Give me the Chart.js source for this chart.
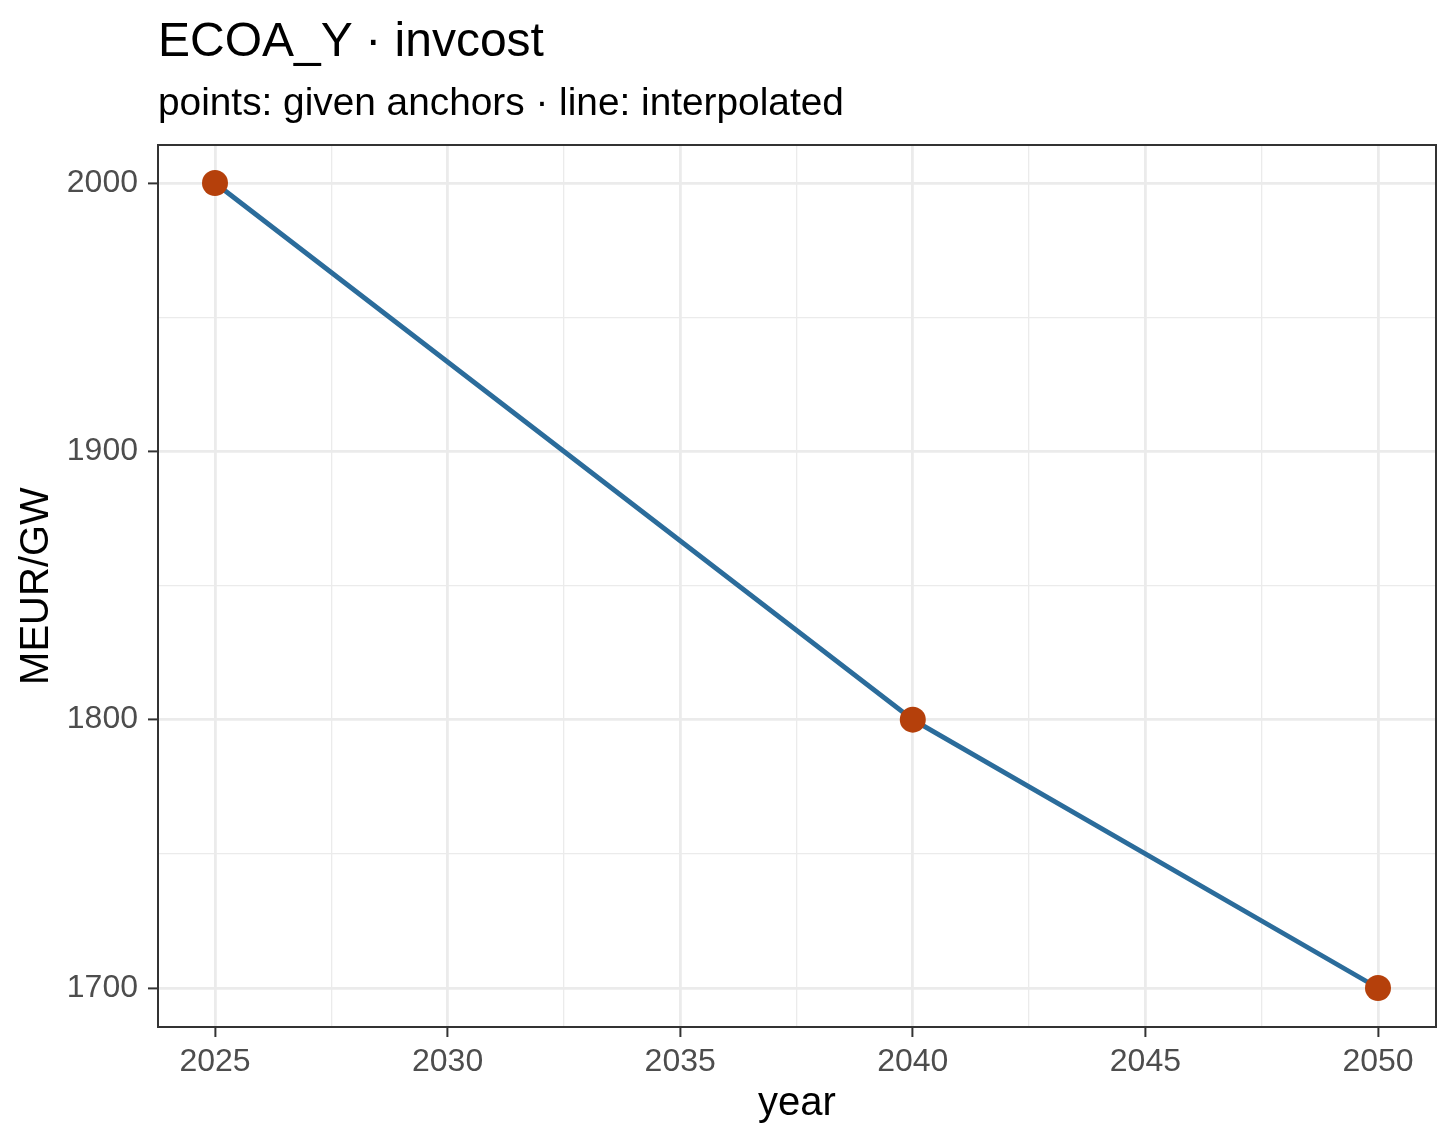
<!DOCTYPE html>
<html>
<head>
<meta charset="utf-8">
<script src="https://cdn.jsdelivr.net/npm/chart.js@4.4.1/dist/chart.umd.min.js"></script>
<style>
  html, body { margin: 0; padding: 0; background: #ffffff; }
  #wrap { position: relative; width: 1456px; height: 1144px; }
  #c { position: absolute; left: 0; top: 0; }
  .ttl { position: absolute; left: 158px; font-family: "Liberation Sans", Arial, sans-serif; color: #000; line-height: 1; white-space: nowrap; }
  #title { top: 16px; font-size: 48px; }
  #subtitle { top: 83px; font-size: 38.8px; }
</style>
</head>
<body>
<div id="wrap">
  <canvas id="c" width="1456" height="1144"></canvas>
  <div id="title" class="ttl">ECOA_Y · invcost</div>
  <div id="subtitle" class="ttl">points: given anchors · line: interpolated</div>
</div>
<script>
// ---- data ----
const anchorYears = [2025, 2040, 2050];
const anchorValues = [2000, 1800, 1700];
const xTickValues = [2025, 2027.5, 2030, 2032.5, 2035, 2037.5, 2040, 2042.5, 2045, 2047.5, 2050];
const xTickLabels = ["2025", "", "2030", "", "2035", "", "2040", "", "2045", "", "2050"];
const yTickValues = [1700, 1750, 1800, 1850, 1900, 1950, 2000];
const yTickLabels = ["1700", "", "1800", "", "1900", "", "2000"];
const xTitle = "year";
const yTitle = "MEUR/GW";

const FONT = "'Liberation Sans', Arial, sans-serif";
const lineData = anchorYears.map((x, i) => ({ x: x, y: anchorValues[i] }));
const pointData = anchorYears.map((x, i) => ({ x: x, y: anchorValues[i] }));

const isMajorX = v => Math.abs(v % 5) < 1e-6;
const isMajorY = v => Math.abs(v % 100) < 1e-6;

const borderPlugin = {
  id: 'panelBorder',
  afterDraw(chart) {
    const a = chart.chartArea;
    const ctx = chart.ctx;
    ctx.save();
    ctx.strokeStyle = '#333333';
    ctx.lineWidth = 2;
    ctx.strokeRect(a.left, a.top, a.right - a.left, a.bottom - a.top);
    ctx.restore();
  }
};

new Chart(document.getElementById('c'), {
  type: 'line',
  data: {
    datasets: [
      {
        label: 'interpolated',
        data: lineData,
        borderColor: '#2B6C9B',
        borderWidth: 4.8,
        pointRadius: 0,
        tension: 0,
        fill: false,
        order: 2
      },
      {
        label: 'anchors',
        data: pointData,
        showLine: false,
        pointRadius: 13,
        pointBackgroundColor: '#B5400B',
        pointBorderColor: '#B5400B',
        pointBorderWidth: 0,
        order: 1
      }
    ]
  },
  options: {
    responsive: false,
    animation: false,
    devicePixelRatio: 1,
    layout: { padding: { top: 145, right: 20, left: 0, bottom: 0 } },
    plugins: {
      legend: { display: false },
      tooltip: { enabled: false },
      title: { display: false }
    },
    scales: {
      x: {
        type: 'linear',
        min: 2023.775,
        max: 2051.247,
        afterBuildTicks(scale) { scale.ticks = xTickValues.map(v => ({ value: v })); },
        afterFit(scale) { scale.height = 117; },
        ticks: {
          autoSkip: false,
          maxRotation: 0,
          padding: 6,
          color: '#4D4D4D',
          font: { family: FONT, size: 32 },
          callback: (v) => { const i = xTickValues.indexOf(v); return i >= 0 ? xTickLabels[i] : ''; }
        },
        grid: {
          drawTicks: true,
          tickLength: 10,
          color: ctx => '#EBEBEB',
          lineWidth: ctx => (ctx.tick && isMajorX(ctx.tick.value)) ? 2.8 : 1.3,
          tickColor: ctx => (ctx.tick && isMajorX(ctx.tick.value)) ? '#333333' : 'rgba(0,0,0,0)',
          tickWidth: 2
        },
        border: { display: false },
        title: {
          display: true,
          text: xTitle,
          color: '#000000',
          font: { family: FONT, size: 40 },
          padding: { top: 0, bottom: 16 }
        }
      },
      y: {
        type: 'linear',
        min: 1685.46,
        max: 2014.16,
        afterBuildTicks(scale) { scale.ticks = yTickValues.map(v => ({ value: v })); },
        afterFit(scale) { scale.width = 158; },
        ticks: {
          autoSkip: false,
          padding: 10,
          color: '#4D4D4D',
          font: { family: FONT, size: 32 },
          callback: (v) => { const i = yTickValues.indexOf(v); return i >= 0 ? yTickLabels[i] : ''; }
        },
        grid: {
          drawTicks: true,
          tickLength: 10,
          color: ctx => '#EBEBEB',
          lineWidth: ctx => (ctx.tick && isMajorY(ctx.tick.value)) ? 2.8 : 1.3,
          tickColor: ctx => (ctx.tick && isMajorY(ctx.tick.value)) ? '#333333' : 'rgba(0,0,0,0)',
          tickWidth: 2
        },
        border: { display: false },
        title: {
          display: true,
          text: yTitle,
          color: '#000000',
          font: { family: FONT, size: 40 },
          padding: { top: 13, bottom: 0 }
        }
      }
    }
  },
  plugins: [borderPlugin]
});
</script>
</body>
</html>
